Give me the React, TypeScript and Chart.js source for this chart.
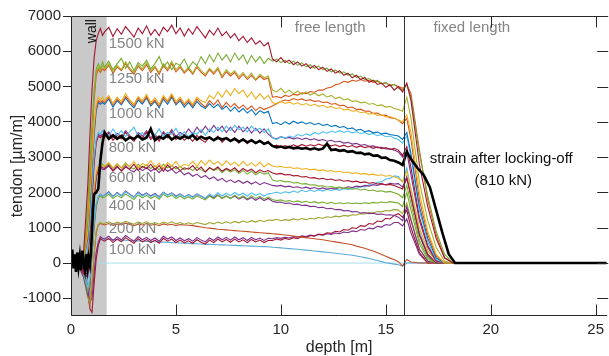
import React, { useEffect, useRef } from 'react';
import { Chart, registerables } from 'chart.js';
Chart.register(...registerables);

// ---------- data ----------
const depth = [0, 0.3, 0.6, 0.8, 0.9, 1.0, 1.1, 1.2, 1.3, 1.4, 1.5,
  1.6, 1.8, 2.0, 2.2, 2.4, 2.6, 2.8, 3.0, 3.2, 3.4,
  3.6, 3.8, 4.0, 4.2, 4.4, 4.6, 4.8, 5.0, 5.2, 5.4,
  5.6, 5.8, 6.0, 6.2, 6.4, 6.6, 6.8, 7.0, 7.2, 7.4,
  7.6, 7.8, 8.0, 8.2, 8.4, 8.6, 8.8, 9.0, 9.2, 9.4,
  9.6, 9.8, 10.0, 10.2, 10.4, 10.6, 10.8, 11.0, 11.2, 11.4,
  11.6, 11.8, 12.0, 12.2, 12.4, 12.6, 12.8, 13.0, 13.2, 13.4,
  13.6, 13.8, 14.0, 14.2, 14.4, 14.6, 14.8, 15.0, 15.2, 15.4,
  15.6, 15.8,
  16.0, 16.2, 16.6, 17.0, 17.4, 17.8, 18.2, 18.6, 25.5];

const strain1500 = [0, 0, 300, 2200, 3600, 4900, 5800, 6300, 6500, 6650, 6450,
  6550, 6680, 6420, 6640, 6480, 6700, 6560, 6400, 6660, 6500,
  6720, 6460, 6620, 6440, 6680, 6560, 6740, 6500, 6660, 6430,
  6640, 6480, 6700, 6540, 6380, 6600, 6460, 6660, 6440, 6560,
  6380, 6500, 6300, 6420, 6250, 6380, 6200, 6300, 6150, 6250,
  5780, 5700, 5820, 5680, 5750, 5620, 5700, 5580, 5650, 5520,
  5600, 5480, 5550, 5430, 5500, 5380, 5450, 5320, 5380, 5250,
  5320, 5200, 5260, 5120, 5180, 5060, 5100, 4980, 5050, 4900,
  5000, 4850,
  5100, 4600, 2800, 1600, 700, 150, 0, 0, 0];

const strain1250a = [0, 0, 150, 1600, 2800, 3900, 4900, 5500, 5650, 5500, 5700,
  5550, 5720, 5480, 5650, 5800, 5520, 5700, 5450, 5680, 5580,
  5750, 5500, 5650, 5850, 5550, 5700, 5480, 5660, 5600, 5780,
  5520, 5700, 5600, 5850, 5650, 5900, 5700, 5950, 5750, 5900,
  5700, 5950, 5750, 5900, 5650, 5880, 5700, 5850, 5650, 5800,
  5720, 5780, 5680, 5750, 5650, 5720, 5600, 5680, 5560, 5620,
  5520, 5580, 5480, 5520, 5420, 5470, 5380, 5420, 5320, 5360,
  5260, 5300, 5200, 5230, 5150, 5180, 5080, 5120, 5020, 5060,
  4950, 4900,
  5050, 4700, 3100, 1900, 900, 250, 0, 0, 0];

const strain1250b = [0, 0, 100, 1300, 2500, 3700, 4800, 5400, 5550, 5450, 5600,
  5500, 5650, 5420, 5600, 5480, 5700, 5520, 5400, 5620, 5500,
  5680, 5450, 5580, 5400, 5650, 5500, 5720, 5480, 5600, 5420,
  5550, 5380, 5600, 5450, 5350, 5520, 5400, 5550, 5300, 5480,
  5350, 5450, 5280, 5400, 5250, 5380, 5200, 5350, 5250, 5300,
  4900, 4850, 4950, 4820, 4900, 4800, 4870, 4780, 4850, 4760,
  4820, 4740, 4790, 4700, 4750, 4660, 4700, 4620, 4650, 4580,
  4600, 4540, 4560, 4500, 4520, 4460, 4480, 4420, 4440, 4380,
  4350, 4300,
  4700, 4100, 2300, 1200, 450, 50, 0, 0, 0];

const strain1250c = [0, 0, 100, 1200, 2300, 3500, 4600, 5300, 5500, 5400, 5500,
  5450, 5600, 5380, 5550, 5450, 5650, 5480, 5350, 5580, 5450,
  5620, 5400, 5550, 5350, 5600, 5450, 5650, 5420, 5550, 5380,
  5500, 5350, 5550, 5400, 5300, 5480, 5350, 5500, 5250, 5420,
  5300, 5400, 5220, 5350, 5200, 5320, 5180, 5300, 5200, 5250,
  4700, 4720, 4680, 4750, 4720, 4780, 4760, 4820, 4800, 4860,
  4840, 4900, 4900, 4960, 4980, 5050, 5080, 5150, 5120, 5180,
  5150, 5200, 5150, 5180, 5120, 5150, 5080, 5100, 5040, 5060,
  5000, 4950,
  5050, 4800, 3200, 1800, 800, 150, 0, 0, 0];

const strain1000a = [0, 0, 50, 900, 1900, 2900, 3900, 4500, 4700, 4600, 4700,
  4600, 4750, 4520, 4700, 4580, 4800, 4620, 4500, 4720, 4600,
  4780, 4550, 4680, 4500, 4750, 4600, 4800, 4580, 4700, 4520,
  4650, 4500, 4700, 4600, 4550, 4750, 4650, 4850, 4700, 4900,
  4750, 4950, 4800, 4900, 4700, 4850, 4650, 4800, 4650, 4750,
  4550, 4500, 4580, 4520, 4560, 4500, 4540, 4480, 4520, 4460,
  4500, 4440, 4470, 4410, 4440, 4380, 4400, 4340, 4360, 4300,
  4320, 4260, 4280, 4220, 4240, 4180, 4200, 4140, 4150, 4100,
  4050, 4000,
  4200, 3700, 2000, 900, 250, 0, 0, 0, 0];

const strain1000b = [0, 0, 50, 800, 1800, 2800, 3800, 4400, 4600, 4550, 4600,
  4550, 4700, 4480, 4650, 4520, 4720, 4580, 4450, 4680, 4550,
  4720, 4500, 4620, 4450, 4700, 4560, 4750, 4520, 4650, 4480,
  4600, 4450, 4650, 4520, 4420, 4600, 4480, 4620, 4400, 4550,
  4420, 4520, 4380, 4480, 4350, 4450, 4320, 4420, 4350, 4400,
  4450, 4520, 4580, 4620, 4600, 4660, 4620, 4650, 4600, 4630,
  4580, 4600, 4550, 4560, 4500, 4520, 4460, 4470, 4400, 4420,
  4350, 4360, 4300, 4310, 4240, 4250, 4180, 4190, 4120, 4100,
  4050, 3950,
  4100, 3500, 1800, 800, 200, 0, 0, 0, 0];

const strain1000c = [0, 0, 0, 700, 1600, 2600, 3600, 4300, 4550, 4500, 4550,
  4500, 4650, 4420, 4600, 4480, 4680, 4520, 4400, 4620, 4500,
  4680, 4450, 4580, 4400, 4650, 4500, 4700, 4480, 4600, 4420,
  4550, 4400, 4580, 4450, 4380, 4520, 4400, 4500, 4350, 4450,
  4300, 4420, 4280, 4380, 4250, 4350, 4200, 4320, 4250, 4300,
  3950, 3980, 3920, 4000, 3940, 4020, 3960, 4000, 3940, 3980,
  3920, 3960, 3900, 3930, 3870, 3900, 3840, 3870, 3800, 3830,
  3760, 3790, 3720, 3750, 3690, 3710, 3660, 3680, 3640, 3620,
  3600, 3500,
  3700, 3100, 1600, 700, 150, 0, 0, 0, 0];

const strain800a = [0, 0, -100, 400, 1100, 2100, 3000, 3500, 3700, 3650, 3750,
  3700, 3600, 3800, 3620, 3750, 3580, 3720, 3850, 3600, 3700,
  3550, 3750, 3620, 3800, 3580, 3700, 3650, 3820, 3600, 3720,
  3580, 3700, 3650, 3780, 3620, 3800, 3700, 3850, 3720, 3880,
  3750, 3900, 3780, 3850, 3720, 3880, 3750, 3820, 3700, 3800,
  3550, 3500, 3580, 3540, 3600, 3560, 3640, 3600, 3660, 3620,
  3700, 3650, 3720, 3680, 3740, 3700, 3750, 3700, 3740, 3690,
  3720, 3670, 3700, 3640, 3670, 3610, 3640, 3580, 3600, 3540,
  3500, 3400,
  3600, 3000, 1500, 600, 100, 0, 0, 0, 0];

const strain800b = [0, 0, -200, 200, 800, 1800, 2800, 3400, 3600, 3550, 3600,
  3550, 3680, 3480, 3620, 3520, 3700, 3560, 3450, 3650, 3540,
  3700, 3500, 3600, 3450, 3680, 3550, 3720, 3500, 3620, 3480,
  3580, 3450, 3620, 3500, 3420, 3580, 3480, 3600, 3420, 3550,
  3450, 3550, 3400, 3520, 3380, 3500, 3400, 3480, 3380, 3450,
  3300, 3340, 3280, 3330, 3290, 3350, 3300, 3360, 3310, 3350,
  3320, 3370, 3330, 3360, 3320, 3350, 3300, 3340, 3290, 3330,
  3280, 3320, 3270, 3300, 3250, 3290, 3240, 3270, 3220, 3250,
  3200, 3050,
  3300, 2700, 1300, 500, 80, 0, 0, 0, 0];

const strain800c = [0, 0, -150, 300, 1000, 1900, 2900, 3450, 3650, 3600, 3650,
  3600, 3720, 3550, 3680, 3580, 3750, 3620, 3500, 3700, 3600,
  3750, 3550, 3650, 3500, 3720, 3600, 3780, 3580, 3700, 3620,
  3800, 3650, 3850, 3700, 3880, 3720, 3900, 3750, 3880, 3700,
  3850, 3700, 3880, 3720, 3850, 3680, 3820, 3680, 3800, 3650,
  3550, 3520, 3580, 3540, 3560, 3520, 3550, 3500, 3540, 3490,
  3520, 3470, 3500, 3450, 3480, 3430, 3450, 3400, 3420, 3370,
  3390, 3340, 3360, 3310, 3320, 3270, 3280, 3230, 3240, 3200,
  3150, 3000,
  3150, 2500, 1200, 450, 50, 0, 0, 0, 0];

const strain600a = [0, 0, -200, -100, 400, 1300, 2100, 2550, 2750, 2800, 2750,
  2750, 2850, 2700, 2820, 2680, 2800, 2740, 2880, 2700, 2820,
  2760, 2900, 2720, 2830, 2680, 2850, 2750, 2880, 2720, 2800,
  2760, 2880, 2740, 2900, 2780, 2920, 2800, 2880, 2760, 2900,
  2780, 2860, 2750, 2880, 2760, 2840, 2740, 2860, 2720, 2820,
  2750, 2720, 2740, 2700, 2720, 2680, 2700, 2660, 2680, 2640,
  2660, 2620, 2640, 2600, 2620, 2580, 2600, 2560, 2580, 2540,
  2560, 2520, 2540, 2500, 2520, 2480, 2500, 2460, 2480, 2440,
  2400, 2300,
  2600, 2100, 1000, 350, 50, 0, 0, 0, 0];

const strain600b = [0, 0, -300, -300, 200, 1100, 1900, 2450, 2700, 2750, 2700,
  2680, 2780, 2620, 2750, 2600, 2720, 2660, 2800, 2620, 2740,
  2680, 2800, 2640, 2760, 2600, 2780, 2660, 2740, 2620, 2700,
  2660, 2760, 2620, 2720, 2580, 2700, 2640, 2720, 2600, 2680,
  2620, 2700, 2580, 2680, 2600, 2660, 2560, 2640, 2580, 2620,
  2550, 2520, 2540, 2500, 2510, 2470, 2480, 2440, 2450, 2410,
  2420, 2380, 2400, 2360, 2380, 2340, 2360, 2320, 2340, 2300,
  2320, 2280, 2300, 2260, 2280, 2240, 2250, 2210, 2230, 2200,
  2150, 2100,
  2400, 1900, 800, 250, 0, 0, 0, 0, 0];

const strain600c = [0, 0, -200, -200, 300, 1200, 2000, 2500, 2750, 2700, 2800,
  2720, 2820, 2680, 2800, 2700, 2840, 2720, 2660, 2800, 2700,
  2780, 2680, 2760, 2640, 2800, 2700, 2760, 2660, 2740, 2640,
  2700, 2620, 2720, 2640, 2580, 2700, 2620, 2680, 2560, 2660,
  2580, 2640, 2540, 2620, 2520, 2600, 2500, 2580, 2520, 2560,
  2350, 2320, 2340, 2300, 2310, 2270, 2280, 2240, 2250, 2210,
  2220, 2180, 2190, 2150, 2170, 2130, 2150, 2110, 2130, 2090,
  2110, 2070, 2090, 2050, 2070, 2030, 2050, 2010, 2030, 1990,
  1950, 1850,
  2200, 1700, 650, 150, 0, 0, 0, 0, 0];

const strain600d = [0, 0, -300, -400, 100, 1000, 1800, 2400, 2650, 2700, 2650,
  2650, 2750, 2600, 2720, 2620, 2760, 2640, 2580, 2720, 2620,
  2700, 2600, 2680, 2560, 2700, 2600, 2660, 2540, 2620, 2500,
  2560, 2460, 2520, 2420, 2480, 2380, 2440, 2340, 2400, 2300,
  2360, 2280, 2340, 2260, 2320, 2240, 2300, 2220, 2280, 2240,
  2200, 2180, 2200, 2160, 2180, 2140, 2160, 2120, 2150, 2110,
  2140, 2100, 2130, 2090, 2120, 2100, 2140, 2120, 2160, 2140,
  2180, 2160, 2200, 2180, 2220, 2200, 2240, 2220, 2260, 2240,
  2250, 2150,
  2450, 1900, 800, 200, 0, 0, 0, 0, 0];

const strain400a = [0, 0, -300, -700, -400, 400, 1200, 1700, 1900, 1950, 1900,
  1920, 2000, 1880, 1980, 1900, 2020, 1940, 1860, 1990, 1900,
  1970, 1880, 1950, 1860, 2000, 1920, 1980, 1880, 1950, 1870,
  1930, 1860, 1960, 1900, 1840, 1960, 1880, 1990, 1900, 1980,
  1910, 2000, 1920, 1980, 1900, 1990, 1920, 1970, 1900, 1960,
  1980, 2010, 1970, 2020, 1990, 2040, 2000, 2060, 2020, 2070,
  2030, 2080, 2040, 2090, 2050, 2100, 2060, 2110, 2080, 2130,
  2120, 2170, 2160, 2220, 2220, 2290, 2300, 2380, 2400, 2470,
  2450, 2300,
  2700, 2100, 900, 250, 0, 0, 0, 0, 0];

const strain400b = [0, 0, -300, -800, -500, 300, 1100, 1650, 1850, 1900, 1850,
  1870, 1950, 1830, 1920, 1850, 1960, 1880, 1800, 1930, 1850,
  1920, 1830, 1900, 1810, 1950, 1870, 1930, 1830, 1900, 1820,
  1880, 1810, 1900, 1840, 1790, 1900, 1820, 1920, 1830, 1900,
  1830, 1920, 1840, 1900, 1820, 1910, 1830, 1890, 1810, 1870,
  1800, 1770, 1790, 1750, 1770, 1730, 1760, 1720, 1750, 1710,
  1740, 1700, 1730, 1690, 1720, 1680, 1710, 1680, 1710, 1680,
  1700, 1680, 1710, 1690, 1720, 1700, 1730, 1710, 1740, 1720,
  1700, 1600,
  2000, 1500, 550, 100, 0, 0, 0, 0, 0];

const strain400c = [0, 0, -400, -900, -700, 200, 1000, 1600, 1850, 1950, 1900,
  1930, 2020, 1890, 2000, 1910, 2040, 1950, 1870, 2010, 1920,
  1990, 1900, 1970, 1880, 2010, 1930, 1990, 1900, 1960, 1880,
  1940, 1870, 1950, 1890, 1830, 1920, 1850, 1930, 1840, 1900,
  1830, 1900, 1810, 1880, 1790, 1860, 1780, 1850, 1770, 1830,
  1750, 1720, 1730, 1690, 1700, 1660, 1670, 1630, 1640, 1600,
  1610, 1570, 1580, 1540, 1550, 1510, 1520, 1480, 1490, 1450,
  1460, 1420, 1430, 1400, 1410, 1380, 1390, 1360, 1370, 1350,
  1300, 1200,
  1600, 1200, 400, 50, 0, 0, 0, 0, 0];

const strain200a = [0, 0, -400, -1000, -1100, -500, 300, 900, 1100, 1150, 1120,
  1130, 1170, 1110, 1160, 1120, 1180, 1140, 1100, 1160, 1120,
  1170, 1110, 1150, 1100, 1160, 1120, 1170, 1110, 1150, 1100,
  1140, 1100, 1150, 1120, 1090, 1150, 1110, 1160, 1120, 1170,
  1130, 1180, 1140, 1190, 1150, 1200, 1160, 1210, 1170, 1220,
  1210, 1240, 1200, 1230, 1210, 1250, 1220, 1260, 1230, 1270,
  1250, 1290, 1270, 1310, 1290, 1330, 1310, 1350, 1330, 1370,
  1360, 1400, 1390, 1430, 1420, 1460, 1450, 1490, 1480, 1520,
  1500, 1400,
  1700, 1250, 400, 50, 0, 0, 0, 0, 0];

const strain200b = [0, 0, -300, -900, -1200, -700, 200, 850, 1080, 1120, 1100,
  1080, 1120, 1070, 1110, 1080, 1130, 1090, 1060, 1110, 1080,
  1120, 1070, 1100, 1060, 1110, 1080, 1100, 1060, 1090, 1080,
  1070, 1060, 1040, 1020, 1000, 990, 975, 960, 950, 940,
  930, 920, 910, 900, 890, 880, 870, 860, 850, 840,
  830, 820, 810, 795, 780, 765, 750, 735, 720, 705,
  690, 675, 660, 640, 620, 600, 580, 560, 540, 520,
  480, 450, 420, 380, 340, 290, 240, 190, 140, 100,
  40, -80,
  100, 30, 0, 0, 0, 0, 0, 0, 0];

const strain100a = [0, 0, -300, -800, -1300, -1400, -600, 100, 500, 700, 650,
  620, 700, 580, 680, 600, 720, 640, 560, 690, 600,
  670, 580, 650, 560, 700, 620, 680, 580, 650, 570,
  630, 560, 660, 590, 540, 650, 580, 680, 600, 670,
  590, 680, 600, 660, 580, 670, 600, 650, 580, 640,
  640, 680, 650, 700, 670, 720, 690, 750, 720, 780,
  760, 820, 800, 860, 840, 900, 880, 950, 930, 1000,
  980, 1060, 1040, 1120, 1100, 1190, 1170, 1270, 1250, 1350,
  1400, 1300,
  1500, 1000, 300, 0, 0, 0, 0, 0, 0];

const strain100b = [0, 0, -250, -700, -1100, -1000, -300, 300, 600, 750, 700,
  680, 760, 640, 740, 660, 780, 700, 620, 750, 660,
  730, 640, 710, 620, 760, 680, 740, 640, 710, 630,
  690, 620, 720, 650, 600, 710, 640, 740, 660, 730,
  650, 740, 660, 720, 640, 730, 660, 710, 640, 700,
  690, 720, 700, 730, 710, 750, 730, 770, 750, 790,
  770, 810, 790, 830, 810, 850, 830, 880, 860, 910,
  890, 950, 930, 990, 970, 1040, 1020, 1090, 1070, 1150,
  1150, 1050,
  1250, 850, 250, 0, 0, 0, 0, 0, 0];

const strain100c = [0, 0, -200, -600, -900, -700, -200, 300, 550, 650, 680,
  680, 670, 665, 660, 650, 645, 640, 632, 628, 620,
  615, 610, 603, 598, 592, 588, 580, 575, 570, 563,
  558, 552, 547, 540, 535, 530, 525, 520, 515, 510,
  505, 500, 495, 490, 485, 480, 475, 470, 465, 460,
  450, 440, 430, 420, 410, 400, 390, 378, 366, 354,
  342, 330, 318, 305, 292, 278, 265, 250, 235, 220,
  200, 180, 155, 130, 100, 70, 40, 10, -10, -30,
  -50, -90,
  0, 0, 0, 0, 0, 0, 0, 0, 0];

// flat reading at 0 kN
const zeroDepth = [1.3, 25.5];
const zeroStrain = [0, 0];

// strain after locking-off (810 kN)
const lockDepth = [0, 0.06, 0.12, 0.18, 0.24, 0.3, 0.36, 0.42, 0.48, 0.54, 0.6, 0.66,
  0.72, 0.78, 0.84, 0.9, 0.95, 1.0, 1.05, 1.1, 1.2, 1.3, 1.4, 1.5,
  1.6, 1.8, 2.0, 2.2, 2.4, 2.6, 2.8, 3.0, 3.2, 3.4,
  3.6, 3.8, 4.0, 4.2, 4.4, 4.6, 4.8, 5.0, 5.2, 5.4,
  5.6, 5.8, 6.0, 6.2, 6.4, 6.6, 6.8, 7.0, 7.2, 7.4,
  7.6, 7.8, 8.0, 8.2, 8.4, 8.6, 8.8, 9.0, 9.2, 9.4,
  9.6, 9.8, 10.0, 10.2, 10.4, 10.6, 10.8, 11.0, 11.2, 11.4,
  11.6, 11.8, 12.0, 12.2, 12.4, 12.6, 12.8, 13.0, 13.2, 13.4,
  13.6, 13.8, 14.0, 14.2, 14.4, 14.6, 14.8, 15.0, 15.2, 15.4,
  15.6, 15.8,
  16.0, 16.2, 16.5, 16.8, 17.1, 17.4, 17.7, 18.0, 18.3, 18.6, 25.5];
const lockStrain = [100, 380, -150, 250, -250, 300, -100, 200, -200, 350, 0, -200,
  250, -150, 150, -50, 300, 900, 1500, 1950, 2000, 2100, 2900, 3400,
  3700, 3520, 3620, 3520, 3600, 3480, 3560, 3520, 3600, 3500,
  3550, 3800, 3480, 3580, 3520, 3620, 3500, 3580, 3520, 3600,
  3540, 3620, 3500, 3580, 3520, 3560, 3480, 3550, 3500, 3540,
  3460, 3520, 3440, 3500, 3420, 3480, 3400, 3460, 3380, 3420,
  3320, 3280, 3300, 3260, 3290, 3250, 3270, 3240, 3260, 3220,
  3250, 3210, 3240, 3380, 3200, 3220, 3180, 3200, 3150, 3170,
  3120, 3130, 3080, 3100, 3040, 3050, 2980, 2990, 2920, 2900,
  2850, 2780,
  3150, 2950, 2700, 2500, 2150, 1500, 850, 250, 0, 0, 0];

const loadSeries = [strain1500, strain1250a, strain1250b, strain1250c,
  strain1000a, strain1000b, strain1000c, strain800a, strain800b, strain800c,
  strain600a, strain600b, strain600c, strain600d, strain400a, strain400b, strain400c,
  strain200a, strain200b, strain100a, strain100b, strain100c];
const loadColors = ['#A2142F', '#77AC30', '#A8B02A', '#D95319',
  '#EDB120', '#D95319', '#0072BD', '#4DBEEE', '#A2142F', '#7E2F8E',
  '#EDB120', '#A2142F', '#77AC30', '#7E2F8E', '#4DBEEE', '#77AC30', '#7E2F8E',
  '#9BA62E', '#C0502A', '#A2142F', '#7E2F8E', '#5AA9D6'];

const groupLabels = ['1500 kN', '1250 kN', '1000 kN', '800 kN', '600 kN', '400 kN', '200 kN', '100 kN'];
const groupLabelStrain = [6220, 5230, 4230, 3270, 2410, 1620, 970, 370];
const groupLabelDepth = 1.8;

const xTicks = [0, 5, 10, 15, 20, 25];
const yTicks = [-1000, 0, 1000, 2000, 3000, 4000, 5000, 6000, 7000];
const wallRange = [0, 1.7];
const fixedStart = 15.85;

const FONT = '"Liberation Sans", Arial, Helvetica, sans-serif';
const AX = '#262626';

const overlay = {
  id: 'overlay',
  beforeDatasetsDraw(chart: any) {
    const { ctx, chartArea: a, scales } = chart;
    const x = scales.x;
    ctx.save();
    const x0 = x.getPixelForValue(wallRange[0]);
    const x1 = x.getPixelForValue(wallRange[1]);
    ctx.fillStyle = '#c9c9c9';
    ctx.fillRect(x0, a.top, x1 - x0, a.bottom - a.top);
    ctx.restore();
  },
  afterDatasetsDraw(chart: any) {
    const { ctx, chartArea: a, scales } = chart;
    const x = scales.x, y = scales.y;
    ctx.save();
    const xs = Math.round(x.getPixelForValue(fixedStart)) + 0.5;
    ctx.strokeStyle = '#333333';
    ctx.lineWidth = 1;
    ctx.beginPath();
    ctx.moveTo(xs, a.top);
    ctx.lineTo(xs, a.bottom);
    ctx.stroke();

    ctx.font = `15px ${FONT}`;
    ctx.fillStyle = '#858585';
    ctx.textAlign = 'left';
    ctx.textBaseline = 'middle';
    groupLabels.forEach((t, i) => {
      ctx.fillText(t, x.getPixelForValue(groupLabelDepth), y.getPixelForValue(groupLabelStrain[i]));
    });
    ctx.textAlign = 'center';
    ctx.fillText('free length', x.getPixelForValue(12.35), y.getPixelForValue(6660));
    ctx.fillText('fixed length', x.getPixelForValue(19.1), y.getPixelForValue(6660));

    ctx.fillStyle = '#111111';
    ctx.fillText('strain after locking-off', x.getPixelForValue(20.5), y.getPixelForValue(2940));
    ctx.fillText('(810 kN)', x.getPixelForValue(20.6), y.getPixelForValue(2330));

    ctx.save();
    ctx.translate(x.getPixelForValue(1.02), y.getPixelForValue(6570));
    ctx.rotate(-Math.PI / 2);
    ctx.font = `14px ${FONT}`;
    ctx.fillStyle = '#111111';
    ctx.fillText('wall', 0, 0);
    ctx.restore();

    ctx.strokeStyle = AX;
    ctx.lineWidth = 1;
    const L = Math.round(a.left) + 0.5, T = Math.round(a.top) + 0.5, B = Math.round(a.bottom) - 0.5;
    ctx.beginPath();
    ctx.moveTo(a.right, T); ctx.lineTo(L, T); ctx.lineTo(L, B); ctx.lineTo(a.right, B);
    ctx.stroke();
    ctx.beginPath();
    xTicks.forEach(v => {
      const px = Math.round(x.getPixelForValue(v)) + 0.5;
      if (v !== 0) {
        ctx.moveTo(px, B); ctx.lineTo(px, B - 11);
        ctx.moveTo(px, T); ctx.lineTo(px, T + 11);
      }
    });
    yTicks.forEach(v => {
      const py = Math.round(y.getPixelForValue(v)) + 0.5;
      ctx.moveTo(a.right + 1, py); ctx.lineTo(a.right - 10, py);
    });
    ctx.stroke();
    ctx.restore();
  },
};

export default function App() {
  const ref = useRef<HTMLCanvasElement>(null);
  useEffect(() => {
    document.body.style.margin = '0';
    const datasets: any[] = [];
    datasets.push({
      data: lockDepth.map((d, i) => ({ x: d, y: lockStrain[i] })),
      borderColor: '#000000', borderWidth: 2.6, pointRadius: 0, order: 0,
    });
    loadSeries.forEach((s, k) => {
      datasets.push({
        data: depth.map((d, i) => ({ x: d, y: s[i] })),
        borderColor: loadColors[k], borderWidth: 1.1, pointRadius: 0, order: 1,
      });
    });
    datasets.push({
      data: zeroDepth.map((d, i) => ({ x: d, y: zeroStrain[i] })),
      borderColor: '#a6dcea', borderWidth: 1, pointRadius: 0, order: 2,
    });
    const chart = new Chart(ref.current as HTMLCanvasElement, {
      type: 'line',
      data: { datasets },
      options: {
        animation: false,
        responsive: false,
        parsing: false as any,
        normalized: true,
        plugins: { legend: { display: false }, tooltip: { enabled: false } },
        layout: { padding: { top: 16, right: 0, left: 0, bottom: 0 } },
        elements: { line: { tension: 0 } },
        scales: {
          x: {
            type: 'linear', min: 0, max: 25.55,
            afterFit(s: any) { s.height = 40; },
            afterBuildTicks(s: any) { s.ticks = xTicks.map(v => ({ value: v })); },
            grid: { display: false, drawTicks: false },
            border: { display: false },
            ticks: { padding: 5, color: AX, font: { family: FONT, size: 15 }, maxRotation: 0, autoSkip: false, callback: (v: any) => String(v) },
            title: { display: true, text: 'depth [m]', color: AX, font: { family: FONT, size: 16, lineHeight: 1 }, padding: 0 },
          },
          y: {
            type: 'linear', min: -1500, max: 7000,
            afterFit(s: any) { s.width = 71; },
            afterBuildTicks(s: any) { s.ticks = yTicks.map(v => ({ value: v })); },
            grid: { drawOnChartArea: false, drawTicks: true, tickLength: 8, color: AX },
            border: { display: false },
            ticks: { padding: 2, color: AX, font: { family: FONT, size: 15 }, autoSkip: false, callback: (v: any) => String(v) },
            title: { display: true, text: 'tendon [µm/m]', color: AX, font: { family: FONT, size: 16 }, padding: { top: 8, bottom: 0 } },
          },
        },
      } as any,
      plugins: [overlay],
    });
    return () => chart.destroy();
  }, []);
  return (
    <div style={{ width: 609, height: 356 }}>
      <canvas ref={ref} width={609} height={356} style={{ display: 'block' }} />
    </div>
  );
}
